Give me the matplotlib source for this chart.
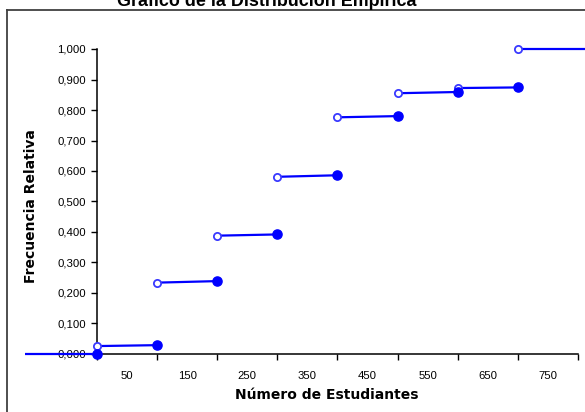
import matplotlib
matplotlib.use("Agg")
import matplotlib.pyplot as plt
from matplotlib.lines import Line2D
from matplotlib.ticker import FixedLocator, FixedFormatter

# ---- data ----
x_edges = [0, 100, 200, 300, 400, 500, 600, 700]
open_y = [0.026, 0.234, 0.388, 0.581, 0.776, 0.855, 0.872, 1.000]      # left end of each step (open circle)
filled_y = [0.000, 0.029, 0.239, 0.392, 0.586, 0.780, 0.859, 0.874]    # right end of each step (filled circle)
left_tail_x = -200
right_tail_x = 900
xtick_labels = ["50", "150", "250", "350", "450", "550", "650", "750"]
ytick_vals = [0.0, 0.1, 0.2, 0.3, 0.4, 0.5, 0.6, 0.7, 0.8, 0.9, 1.0]

title = "Gráfico de la Distribución Empírica"
xlabel = "Número de Estudiantes"
ylabel = "Frecuencia Relativa"

W, H, DPI = 585, 412, 100
fig = plt.figure(figsize=(W / DPI, H / DPI), dpi=DPI)
fig.patch.set_facecolor("white")

# axes geometry in pixels
x0_px, x1_px = 25, 585
ybot_px, ytop_px = 363.15, 39.85
ax = fig.add_axes([x0_px / W, 1 - ybot_px / H, (x1_px - x0_px) / W, (ybot_px - ytop_px) / H])
ax.set_xlim(-120, 812)
ax.set_ylim(-0.03, 1.03)

blue = "#0000FF"
open_edge = "#3A3AFF"

# left tail at 0
ax.plot([left_tail_x, x_edges[0]], [filled_y[0], filled_y[0]], color=blue, lw=1.6, zorder=2)
# step segments
n = len(x_edges)
for i in range(n):
    xs = x_edges[i]
    xe = x_edges[i + 1] if i + 1 < n else right_tail_x
    ye = filled_y[i + 1] if i + 1 < n else open_y[i]
    ax.plot([xs, xe], [open_y[i], ye], color=blue, lw=1.6, zorder=2)

# filled markers (right end of steps)
ax.plot(x_edges, filled_y, linestyle="none", marker="o", markersize=6.6,
        markerfacecolor=blue, markeredgecolor=blue, zorder=4, clip_on=False)
# open markers (left end of steps)
ax.plot(x_edges, open_y, linestyle="none", marker="o", markersize=5.2,
        markerfacecolor="white", markeredgecolor=open_edge, markeredgewidth=1.3,
        zorder=3, clip_on=False)

# spines
for s in ["top", "right"]:
    ax.spines[s].set_visible(False)
ax.spines["left"].set_position(("data", 0))
ax.spines["bottom"].set_position(("data", 0))
ax.spines["left"].set_bounds(0, 1.0)
ax.spines["bottom"].set_bounds(0, 800)
for s in ["left", "bottom"]:
    ax.spines[s].set_linewidth(1.1)
    ax.spines[s].set_color("black")
ax.patch.set_alpha(0)

# y ticks
ax.set_yticks(ytick_vals)
ax.set_yticklabels([f"{v:.3f}".replace(".", ",") for v in ytick_vals])
ax.tick_params(axis="y", direction="out", length=4, width=1, pad=4, labelsize=8.2)

# x ticks: marks at 0..800, labels between them
ax.xaxis.set_major_locator(FixedLocator([0, 100, 200, 300, 400, 500, 600, 700, 800]))
ax.xaxis.set_major_formatter(FixedFormatter([""] * 9))
ax.xaxis.set_minor_locator(FixedLocator([50, 150, 250, 350, 450, 550, 650, 750]))
ax.xaxis.set_minor_formatter(FixedFormatter(xtick_labels))
ax.tick_params(axis="x", which="major", direction="out", length=4, width=1)
ax.tick_params(axis="x", which="minor", length=0, pad=12.5, labelsize=8.2)

for lab in ax.get_yticklabels() + ax.get_xticklabels(minor=True):
    lab.set_fontfamily("Liberation Sans")

# axis labels
fig.text(327 / W, 1 - 395 / H, xlabel, ha="center", va="center",
         fontsize=10, fontweight="bold", family="DejaVu Sans")
fig.text(31 / W, 1 - 206 / H, ylabel, ha="center", va="center", rotation=90,
         fontsize=10, fontweight="bold", family="DejaVu Sans")

# title (partially cut off at the top, as in the reference)
fig.text(267 / W, 1 - 6.5 / H, title, ha="center", va="baseline",
         fontsize=12.9, fontweight="bold", family="Liberation Sans")

# chart-area border (only top and left edges visible)
border_col = "#404040"
fig.add_artist(Line2D([7 / W, 7 / W], [1 - 10 / H, -0.05], color=border_col, lw=1.3,
                      transform=fig.transFigure))
fig.add_artist(Line2D([7 / W, 1.05], [1 - 10 / H, 1 - 10 / H], color=border_col, lw=1.3,
                      transform=fig.transFigure))

fig.savefig("out.png", dpi=DPI)
